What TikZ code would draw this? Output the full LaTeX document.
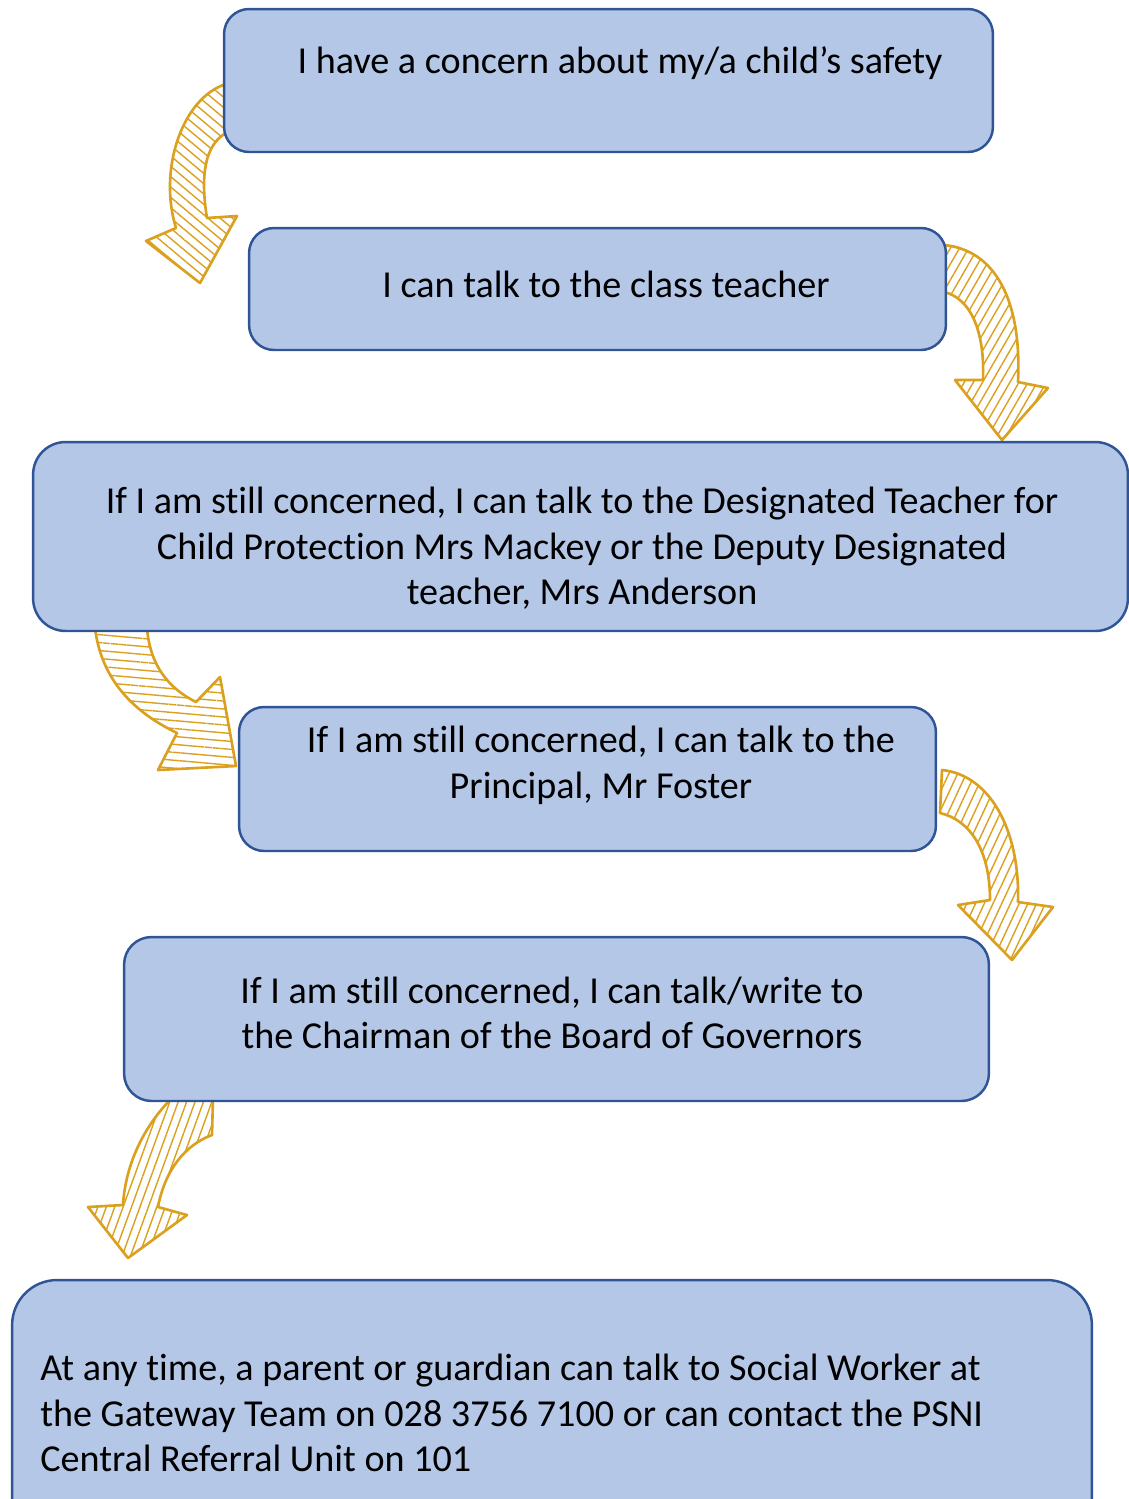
\documentclass[tikz,border=0pt]{standalone}
\usepackage{fontspec}
\setmainfont{Carlito}[Ligatures=NoCommon]
\usetikzlibrary{patterns.meta,backgrounds}
\definecolor{boxfill}{RGB}{180,199,231}
\definecolor{boxline}{RGB}{47,85,151}
\definecolor{arrowgold}{RGB}{218,160,30}
\tikzset{
  stepbox/.style={draw=boxline,fill=boxfill,line width=1.4pt,rounded corners=#1,inner sep=0pt},
  stepbox/.default=0.5cm,
  steptext/.style={font=\fontsize{21.7}{26}\selectfont,align=center,inner sep=0pt},
  bigarrow/.style={draw=arrowgold,line width=1.5pt,line join=round,
    pattern={Lines[angle=#1,distance=4.5pt,line width=.8pt]},pattern color=arrowgold}
}
\begin{document}
\begin{tikzpicture}[x=0.02cm,y=-0.02cm]
  \useasboundingbox (0,0) rectangle (1129,1499);

  \path (608.5,80.5) node[stepbox,minimum width=15.38cm,minimum height=2.86cm] (concern) {};
  \path (597.5,289) node[stepbox,minimum width=13.94cm,minimum height=2.44cm] (classteacher) {};
  \path (580.5,536.5) node[stepbox=0.65cm,minimum width=21.9cm,minimum height=3.78cm] (designated) {};
  \path (587.5,779) node[stepbox,minimum width=13.94cm,minimum height=2.88cm] (principal) {};
  \path (556.5,1019) node[stepbox=0.55cm,minimum width=17.3cm,minimum height=3.28cm] (governors) {};
  \path (552,1425) node[stepbox=0.9cm,minimum width=21.6cm,minimum height=5.8cm] (anytime) {};

  \path (620,73) node[steptext,anchor=base] (concerntxt) {I have a concern about my/a child’s safety};
  \path (606,297) node[steptext,anchor=base] (classtxt) {I can talk to the class teacher};
  \path (582,548.5) node[steptext] (designatedtxt) {If I am still concerned, I can talk to the Designated Teacher for\\
    Child Protection Mrs Mackey or the Deputy Designated\\teacher, Mrs Anderson};
  \path (601,765.5) node[steptext] (principaltxt) {If I am still concerned, I can talk to the\\Principal, Mr Foster};
  \path (552,1013) node[steptext] (governorstxt) {If I am still concerned, I can talk/write to\\the Chairman of the Board of Governors};
  \path (40,1413) node[steptext,align=left,anchor=west] (anytimetxt) {At any time, a parent or guardian can talk to Social Worker at\\
    the Gateway Team on 028 3756 7100 or can contact the PSNI\\Central Referral Unit on 101};

  % hatched arrows behind the boxes
  \begin{scope}[on background layer]
    \draw[bigarrow=-40] (226,84) .. controls (182,98) and (158,170) .. (176,228) -- (146,241) -- (200,283)
      -- (237,216) -- (207,218) .. controls (200,175) and (205,145) .. (226,133) -- cycle;
    \draw[bigarrow=60] (944,245) .. controls (995,250) and (1022,300) .. (1018,382) -- (1048,388) -- (1002,440)
      -- (955,380) -- (983,380) .. controls (985,330) and (970,298) .. (944,292) -- cycle;
    \draw[bigarrow=-5] (95,628) .. controls (102,685) and (140,715) .. (177,733) -- (158,770) -- (236,766)
      -- (220,677) -- (196,702) .. controls (168,688) and (150,665) .. (147,628) -- cycle;
    \draw[bigarrow=65] (942,770) .. controls (990,775) and (1020,830) .. (1018,902) -- (1053,907) -- (1012,960)
      -- (958,905) -- (990,900) .. controls (990,850) and (970,820) .. (940,813) -- cycle;
    \draw[bigarrow=70] (172,1098) .. controls (140,1130) and (125,1170) .. (123,1205) -- (88,1207) -- (128,1258)
      -- (187,1215) -- (158,1207) .. controls (165,1170) and (185,1145) .. (212,1135) -- (213,1098) -- cycle;
  \end{scope}
\end{tikzpicture}
\end{document}
